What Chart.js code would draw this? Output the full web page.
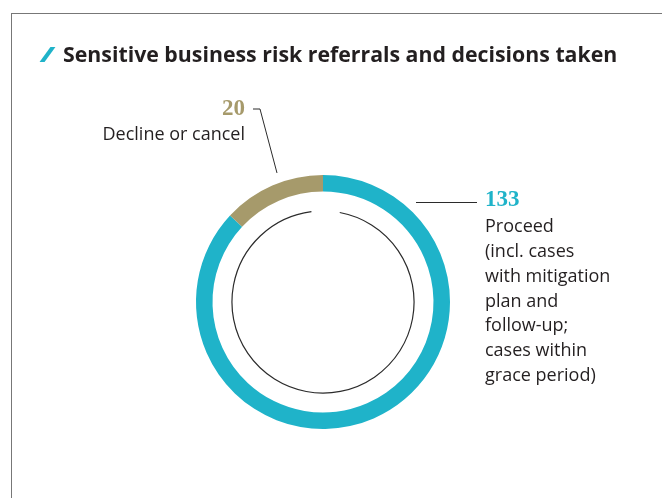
<!DOCTYPE html>
<html>
<head>
<meta charset="utf-8">
<script src="https://cdn.jsdelivr.net/npm/chart.js@4.4.1/dist/chart.umd.min.js"></script>
<style>
  html, body { margin: 0; padding: 0; background: #fff; }
  body { width: 662px; height: 498px; position: relative; overflow: hidden; }
  #frame { position: absolute; left: 11px; top: 13px; right: -5px; bottom: -5px;
           border-top: 1px solid #777; border-left: 1px solid #777; }
  #slash { position: absolute; left: 44.5px; top: 47px; width: 5px; height: 15px;
           background: #1fb3c9; transform: skewX(-36deg); }
  #title { position: absolute; left: 63px; top: 43.2px; font: bold 21.3px "Open Sans", sans-serif;
           line-height: 21px; color: #231f20; white-space: nowrap; }
  .num { position: absolute; font: bold 23px "Liberation Serif", serif; line-height: 23px; white-space: nowrap; }
  .lbl { position: absolute; font: 18px "Open Sans", sans-serif; line-height: 24.8px; color: #231f20; white-space: nowrap; }
  canvas { position: absolute; left: 0; top: 0; }
</style>
</head>
<body>
<canvas id="donut" width="662" height="498"></canvas>
<div id="frame"></div>
<div id="slash"></div>
<div id="title">Sensitive business risk referrals and decisions taken</div>
<div id="labels"></div>
<script>
// data
const categories = ["Proceed", "Decline or cancel"];
const labelLines = [
    ["Proceed", "(incl. cases", "with mitigation", "plan and", "follow-up;", "cases within", "grace period)"],
    ["Decline or cancel"]
];
const values = [133, 20];
const colors = ["#1fb3c9", "#a69a6b"];

// value + description labels, built from the arrays
const labelsDiv = document.getElementById("labels");
const addDiv = (cls, text, style) => {
    const d = document.createElement("div");
    d.className = cls;
    d.innerHTML = text;
    Object.assign(d.style, style);
    labelsDiv.appendChild(d);
};
addDiv("num", values[0], {left: "485px", top: "186.7px", color: colors[0]});
addDiv("lbl", labelLines[0].join("<br>"), {left: "485px", top: "213.3px"});
addDiv("num", values[1], {right: (662 - 245) + "px", top: "95.7px", color: colors[1], textAlign: "right"});
addDiv("lbl", labelLines[1].join("<br>"), {right: (662 - 245) + "px", top: "120.6px", textAlign: "right"});

// inner thin ring and leader lines
const decorPlugin = {
    id: "decor",
    afterDatasetsDraw(chart) {
        const ctx = chart.ctx;
        const meta = chart.getDatasetMeta(0);
        const proceed = meta.data[0];
        const decline = meta.data[1];
        const cx = proceed.x, cy = proceed.y, R = proceed.outerRadius;
        const deg = Math.PI / 180;

        ctx.save();
        ctx.strokeStyle = "#2b2b2b";
        ctx.lineWidth = 1.2;

        // thin circle with a gap at the top
        ctx.beginPath();
        ctx.arc(cx, cy, R * 0.717, -Math.PI / 2 + 10.6 * deg, -Math.PI / 2 - 7.3 * deg + 2 * Math.PI);
        ctx.stroke();

        // leader for "Decline or cancel"
        const a = decline.endAngle - (decline.endAngle - decline.startAngle) * 0.417;
        const r = R + 10;
        ctx.lineWidth = 1;
        ctx.beginPath();
        ctx.moveTo(cx + r * Math.cos(a), cy + r * Math.sin(a));
        ctx.lineTo(cx - 63, cy - 193);
        ctx.lineTo(cx - 70, cy - 193);
        ctx.stroke();

        // leader for "Proceed"
        ctx.beginPath();
        ctx.moveTo(cx + 93, cy - 99.5);
        ctx.lineTo(cx + 154, cy - 99.5);
        ctx.stroke();
        ctx.restore();
    }
};

new Chart(document.getElementById("donut"), {
    type: "doughnut",
    data: {
        labels: categories,
        datasets: [{
            data: values,
            backgroundColor: colors,
            borderWidth: 0,
            hoverOffset: 0
        }]
    },
    options: {
        responsive: false,
        animation: false,
        cutout: "87%",
        rotation: 0,
        layout: {padding: {left: 196, right: 212, top: 175, bottom: 69}},
        plugins: {
            legend: {display: false},
            tooltip: {enabled: false}
        },
        events: []
    },
    plugins: [decorPlugin]
});
</script>
</body>
</html>
